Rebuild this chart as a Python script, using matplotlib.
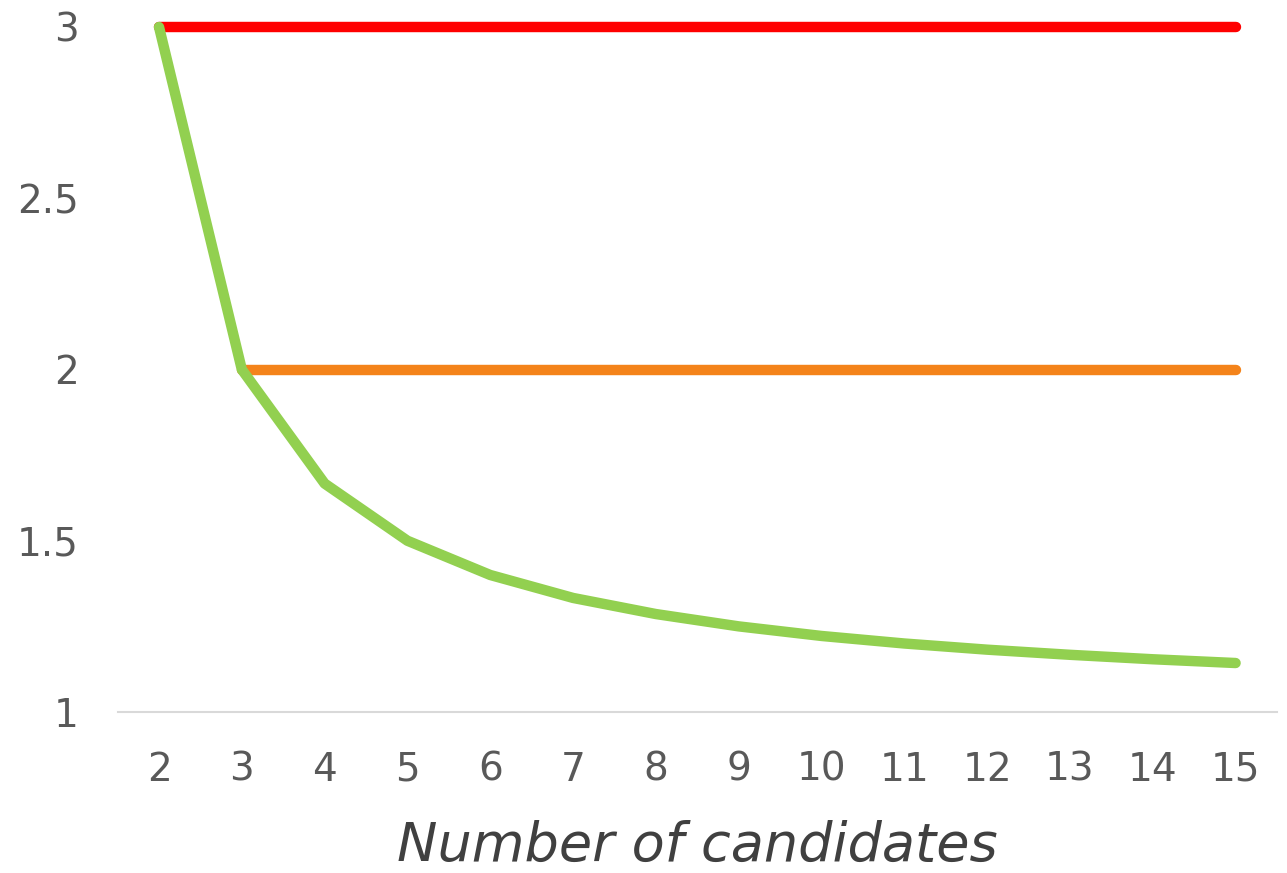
import matplotlib
matplotlib.use("Agg")
import matplotlib.pyplot as plt

# candidate counts on the category axis
candidates = [2, 3, 4, 5, 6, 7, 8, 9, 10, 11, 12, 13, 14, 15]

# series values
red_vals = [3, 3, 3, 3, 3, 3, 3, 3, 3, 3, 3, 3, 3, 3]
orange_x = [3, 4, 5, 6, 7, 8, 9, 10, 11, 12, 13, 14, 15]
orange_vals = [2, 2, 2, 2, 2, 2, 2, 2, 2, 2, 2, 2, 2]
green_vals = [3.0, 2.0, 1.667, 1.5, 1.4, 1.333, 1.286, 1.25, 1.222, 1.2,
              1.182, 1.167, 1.154, 1.143]

y_ticks = [1, 1.5, 2, 2.5, 3]
y_labels = ["1", "1.5", "2", "2.5", "3"]

plt.rcParams['font.family'] = ['DejaVu Sans']

fig = plt.figure(figsize=(12.87, 8.73), dpi=100)
ax = fig.add_axes([117.6 / 1287, 161 / 873, (1277 - 117.6) / 1287, 685 / 873])

lw = 7.5
ax.plot(candidates, red_vals, color="#FF0000", lw=lw, solid_capstyle="round",
        clip_on=False, zorder=2)
ax.plot(orange_x, orange_vals, color="#F4831A", lw=lw, solid_capstyle="round",
        clip_on=False, zorder=2)
ax.plot(candidates, green_vals, color="#92D050", lw=lw, solid_capstyle="round",
        solid_joinstyle="round", clip_on=False, zorder=3)

ax.set_xlim(1.5, 15.5)
ax.set_ylim(1, 3)
ax.set_xticks(candidates)
ax.set_xticklabels([str(c) for c in candidates])
ax.set_yticks(y_ticks)
ax.set_yticklabels(y_labels)

for s in ["top", "right", "left"]:
    ax.spines[s].set_visible(False)
ax.spines["bottom"].set_color("#D9D9D9")
ax.spines["bottom"].set_linewidth(1.5)

ax.tick_params(axis="both", length=0, labelsize=28, labelcolor="#595959")
ax.tick_params(axis="x", pad=28)
ax.tick_params(axis="y", pad=28)

ax.set_xlabel("Number of candidates", fontsize=39, style="italic",
              color="#404040", labelpad=22)

fig.savefig("out.png", dpi=100)
